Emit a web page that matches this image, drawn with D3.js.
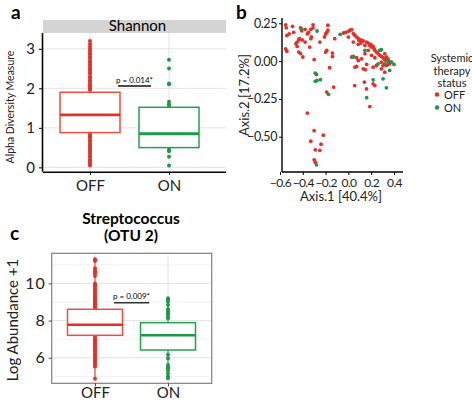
<!DOCTYPE html>
<html><head><meta charset="utf-8">
<script src="https://cdn.jsdelivr.net/npm/d3@7/dist/d3.min.js"></script>
<style>body{margin:0;background:#fff}svg{display:block}text{font-family:Lato,"Open Sans",sans-serif}</style>
</head><body><svg id="c" width="472" height="401"></svg>
<script>
// ---------- DATA ----------
const groups = ["OFF","ON"];
// Panel a: Shannon box stats [q1, median, q3]
const shannonBox = {OFF:[0.88,1.33,1.90], ON:[0.50,0.85,1.52]};
const shannonOFF = [3.2,3.12,3.05,3.0,2.96,2.9,2.86,2.8,2.76,2.7,2.66,2.6,2.55,2.5,2.46,2.4,2.37,2.3,2.26,2.2,2.16,2.1,2.05,2.0,1.96,
                    0.85,0.8,0.76,0.7,0.66,0.6,0.55,0.5,0.46,0.4,0.36,0.3,0.26,0.2,0.16,0.12,0.08,0.05];
const shannonON = [2.72,2.5,2.12,2.1,1.66,1.6,1.55,0.45,0.41,0.27,0.05];
const shannonTicks = [0,1,2,3];
// Panel c: Streptococcus box stats
const streptoBox = {OFF:[7.21,7.78,8.61], ON:[6.42,7.21,7.89]};
const streptoOFF = [11.3,11.2,10.82,10.7,10.63,10.55,10.4,10.0,9.9,9.83,9.72,9.65,9.55,9.45,9.38,9.29,9.2,9.1,9.02,8.93,8.88,8.8,8.74,8.67,
                    7.12,7.0,6.92,6.85,6.76,6.7,6.6,6.5,6.42,6.35,6.25,6.16,6.06,6.0,5.9,5.8,5.7,5.62,5.53,4.87];
const streptoON = [9.2,9.12,9.02,8.84,8.61,8.55,8.48,8.4,8.31,8.2,8.13,6.16,5.98,5.62,5.5,5.44,5.35,5.17,4.99,4.9];
const streptoTicks = [6,8,10];
const streptoMinor = [5,7,9,11];
// Panel b: ordination (Axis.1, Axis.2)
const pcoaOFF = [[-0.55,0.24],[-0.545,0.22],[-0.49,0.23],[-0.52,0.18],[-0.54,0.17],[-0.48,0.19],[-0.55,0.08],[-0.54,0.065],
 [-0.42,0.22],[-0.41,0.20],[-0.46,0.115],[-0.45,0.126],[-0.435,0.14],[-0.43,0.148],[-0.405,0.14],[-0.45,0.097],[-0.435,0.06],[-0.42,0.05],[-0.40,0.027],
 [-0.38,0.21],[-0.36,0.18],[-0.35,0.19],[-0.34,0.093],[-0.38,0.126],[-0.33,0.21],[-0.31,0.24],[-0.31,0.22],[-0.33,0.148],[-0.325,0.16],[-0.30,0.01],
 [-0.25,0.126],[-0.21,0.16],[-0.20,0.18],[-0.19,0.19],[-0.18,0.237],[-0.19,0.07],[-0.20,0.06],[-0.18,0.204],[-0.14,0.053],[-0.14,0.03],[-0.12,0.148],
 [-0.36,-0.344],[-0.30,-0.46],[-0.33,-0.53],[-0.22,-0.49],[-0.24,-0.55],[-0.29,-0.587],[-0.25,-0.59],[-0.30,-0.653],[-0.29,-0.669],
 [-0.28,-0.088],[-0.19,-0.205],[-0.13,-0.172],[-0.165,-0.044],
 [-0.043,0.186],[-0.023,0.19],[0,0.197],[0.014,0.204],[0.029,0.208],[0.043,0.181],[0.058,0.17],[0.072,0.159],[0.087,0.148],[0.093,0.137],[0.101,0.142],
 [0.116,0.137],[0.13,0.133],[0.145,0.104],[0.159,0.126],[0.174,0.119],[0.188,0.104],[0.197,0.111],[0.203,0.093],[0.217,0.097],[0.226,0.082],[0.232,0.071],
 [0.246,0.06],[0.261,0.049],[0.275,0.038],[0.29,0.031],[0.304,0.022],[0.319,0.009],[0.333,0.004],[0.348,0],[0.362,-0.007],[0.319,0.049],[0.333,0.027],
 [0.348,0.015],[0.377,-0.007],[0.29,-0.007],[0.304,-0.029],[0.333,-0.029],[0.348,-0.022],[0.362,-0.018],[0,0.159],[0.043,0.126],[0.087,0.111],[0.11,0.119],
 [0.029,0.027],[0.043,0.031],[0.072,0.022],[0.087,0.004],[0.116,0.015],[0.145,0.049],[0.174,0.071],[0.203,0.038],[0.232,0.022],[0.058,-0.04],[0.072,-0.035],
 [0.13,-0.051],[0.217,-0.04],[0.246,-0.029],[0.29,-0.051],[0.319,-0.073],[0.055,-0.162],[0.159,-0.184],[0.217,-0.15],[0.232,-0.162],[0.188,-0.301],
 [0.14,-0.139],[0.148,-0.057],[0.16,-0.022]];
const pcoaON = [[-0.414,0.215],[-0.275,0.199],[-0.29,-0.08],[-0.29,-0.134],[-0.275,-0.128],[-0.245,-0.123],[-0.175,-0.22],[-0.28,-0.686],
 [-0.072,0.177],[0.145,0.071],[0.275,0.071],[0.29,0.075],[0.261,-0.018],[0.319,-0.018],[0.348,0.004],[0.40,-0.022],[0.377,-0.007],
 [0.362,-0.062],[0.304,-0.117],[0.333,-0.177],[0.217,-0.124],[0.16,-0.242],[0.043,0.027]];
const pcoaXTicks = [-0.6,-0.4,-0.2,0.0,0.2,0.4];
const pcoaYTicks = [-0.5,-0.25,0,0.25];

const colors = {OFF:"#e5302a", ON:"#1c9a48"};
const boxStroke = {OFF:"#ee4d3f", ON:"#23a04e"};

const svg = d3.select("#c");

// ---------- Panel a ----------
(function(){
  const L=43,R=226,T=33,B=171.7;
  const x = d3.scalePoint().domain(groups).range([90,169]);
  const y = d3.scaleLinear().domain([-0.11,3.4]).range([B,T]);
  const g = svg.append("g");
  g.append("rect").attr("x",L).attr("y",20).attr("width",R-L).attr("height",13).attr("fill","#d4d4d4");
  g.append("text").attr("x",(L+R)/2+3).attr("y",31).attr("text-anchor","middle").attr("font-size",15).text("Shannon");
  g.selectAll(".gy").data(shannonTicks).join("line").attr("x1",L).attr("x2",R).attr("y1",d=>y(d)).attr("y2",d=>y(d)).attr("stroke","#e3e3e3").attr("stroke-width",1);
  g.selectAll(".gx").data(groups).join("line").attr("x1",d=>x(d)).attr("x2",d=>x(d)).attr("y1",T).attr("y2",B).attr("stroke","#e3e3e3");
  const pts = [...shannonOFF.map(v=>({g:"OFF",v})),...shannonON.map(v=>({g:"ON",v}))];
  g.selectAll(".p").data(pts).join("circle").attr("cx",d=>x(d.g)).attr("cy",d=>y(d.v)).attr("r",2).attr("fill",d=>colors[d.g]);
  const bw=60;
  groups.forEach(k=>{
    const [q1,md,q3]=shannonBox[k], c=boxStroke[k];
    g.append("rect").attr("x",x(k)-bw/2).attr("y",y(q3)).attr("width",bw).attr("height",y(q1)-y(q3)).attr("fill","#fff").attr("stroke",c).attr("stroke-width",1.5);
    g.append("line").attr("x1",x(k)-bw/2).attr("x2",x(k)+bw/2).attr("y1",y(md)).attr("y2",y(md)).attr("stroke",colors[k]).attr("stroke-width",2.8);
  });
  const ya = d3.axisLeft(y).tickValues(shannonTicks).tickSize(4).tickFormat(d3.format("d"));
  const ay = g.append("g").attr("transform",`translate(${L},0)`).call(ya);
  ay.select(".domain").attr("d",`M-0.5,${T}V${B}`).attr("stroke","#000").attr("stroke-width",1.6);
  ay.selectAll("text").attr("font-size",15).attr("fill","#222").attr("dx",-1);
  const xa = d3.axisBottom(x).tickSize(3).tickSizeOuter(0);
  const ax = g.append("g").attr("transform",`translate(0,${B})`).call(xa);
  ax.select(".domain").attr("d",`M${L},0.5H${R}`).attr("stroke","#000").attr("stroke-width",1.6);
  ax.selectAll("text").attr("font-size",15).attr("fill","#222").attr("dy","0.9em");
  g.append("text").attr("transform","translate(14,107) rotate(-90)").attr("text-anchor","middle").attr("font-size",10.5).attr("fill","#222").text("Alpha Diversity Measure");
  g.append("line").attr("x1",118).attr("x2",151).attr("y1",86).attr("y2",86).attr("stroke","#111").attr("stroke-width",1.3);
  g.append("text").attr("x",134.5).attr("y",82.5).attr("text-anchor","middle").attr("font-size",8).text("p = 0.014*");
  g.append("text").attr("x",11).attr("y",19).attr("font-size",19).attr("font-weight","bold").attr("font-family","Liberation Sans, Arial").text("a");
})();

// ---------- Panel b ----------
(function(){
  const L=282,R=403,T=18,B=172;
  const x = d3.scaleLinear().domain([-0.6,0.4]).range([280,394]);
  const y = d3.scaleLinear().domain([-0.5,0.25]).range([136.7,23.3]);
  const g = svg.append("g");
  const pts=[...pcoaOFF.map(p=>({g:"OFF",p})),...pcoaON.map(p=>({g:"ON",p}))];
  g.selectAll(".p").data(pts).join("circle").attr("cx",d=>x(d.p[0])).attr("cy",d=>y(d.p[1])).attr("r",1.9).attr("fill",d=>colors[d.g]);
  const ay = g.append("g").attr("transform",`translate(${L},0)`).call(d3.axisLeft(y).tickValues(pcoaYTicks).tickSize(3).tickPadding(2).tickFormat(d3.format(".2f")));
  ay.select(".domain").attr("d",`M0,${T}V${B}`).attr("stroke","#000").attr("stroke-width",1.4);
  ay.selectAll("text").attr("font-size",12.5).attr("letter-spacing","-0.4px").attr("fill","#222").text(d=>d3.format(".2f")(d).replace("-","\u2212"));
  const ax = g.append("g").attr("transform",`translate(0,${B})`).call(d3.axisBottom(x).tickValues(pcoaXTicks).tickSize(3).tickFormat(d3.format(".1f")));
  ax.select(".domain").attr("d",`M${L},0H${R}`).attr("stroke","#000").attr("stroke-width",1.4);
  ax.selectAll("text").attr("font-size",12).attr("letter-spacing","-0.6px").attr("fill","#222").text(d=>d3.format(".1f")(d).replace("-","\u2212"));
  g.append("text").attr("x",341).attr("y",201).attr("text-anchor","middle").attr("font-size",13).attr("fill","#222").text("Axis.1 [40.4%]");
  g.append("text").attr("transform","translate(249,95) rotate(-90)").attr("text-anchor","middle").attr("font-size",13).attr("fill","#222").text("Axis.2 [17.2%]");
  const lg = g.append("g");
  ["Systemic","therapy","status"].forEach((t,i)=>lg.append("text").attr("x",452).attr("y",62+i*12.5).attr("text-anchor","middle").attr("font-size",11).attr("fill","#222").text(t));
  groups.forEach((k,i)=>{
    lg.append("circle").attr("cx",437).attr("cy",94.5+i*13).attr("r",2.2).attr("fill",colors[k]);
    lg.append("text").attr("x",444).attr("y",98.5+i*13).attr("font-size",11).attr("fill","#222").text(k);
  });
  g.append("text").attr("x",236).attr("y",19).attr("font-size",19).attr("font-weight","bold").attr("font-family","Liberation Sans, Arial").text("b");
})();

// ---------- Panel c ----------
(function(){
  const L=51.7,R=211.7,T=253.3,B=383.3;
  const x = d3.scalePoint().domain(groups).range([95,168]);
  const y = d3.scaleLinear().domain([4.63,11.62]).range([B,T]);
  const g = svg.append("g");
  g.selectAll(".gm").data(streptoMinor).join("line").attr("x1",L).attr("x2",R).attr("y1",d=>y(d)).attr("y2",d=>y(d)).attr("stroke","#f2f2f2");
  g.selectAll(".gy").data(streptoTicks).join("line").attr("x1",L).attr("x2",R).attr("y1",d=>y(d)).attr("y2",d=>y(d)).attr("stroke","#e2e2e2");
  g.selectAll(".gx").data(groups).join("line").attr("x1",d=>x(d)).attr("x2",d=>x(d)).attr("y1",T).attr("y2",B).attr("stroke","#e2e2e2");
  const pts=[...streptoOFF.map(v=>({g:"OFF",v})),...streptoON.map(v=>({g:"ON",v}))];
  const bw=55;
  groups.forEach(k=>{
    const arr = k==="OFF"?streptoOFF:streptoON;
    g.append("line").attr("x1",x(k)).attr("x2",x(k)).attr("y1",y(d3.max(arr))).attr("y2",y(d3.min(arr))).attr("stroke",boxStroke[k]).attr("stroke-width",1.2);
  });
  g.selectAll(".p").data(pts).join("circle").attr("cx",d=>x(d.g)).attr("cy",d=>y(d.v)).attr("r",2).attr("fill",d=>colors[d.g]);
  groups.forEach(k=>{
    const [q1,md,q3]=streptoBox[k];
    g.append("rect").attr("x",x(k)-bw/2).attr("y",y(q3)).attr("width",bw).attr("height",y(q1)-y(q3)).attr("fill","#fff").attr("stroke",boxStroke[k]).attr("stroke-width",1.5);
    g.append("line").attr("x1",x(k)-bw/2).attr("x2",x(k)+bw/2).attr("y1",y(md)).attr("y2",y(md)).attr("stroke",colors[k]).attr("stroke-width",2.6);
  });
  g.append("rect").attr("x",L).attr("y",T).attr("width",R-L).attr("height",B-T).attr("fill","none").attr("stroke","#808080").attr("stroke-width",1.2);
  const ay = g.append("g").attr("transform",`translate(${L},0)`).call(d3.axisLeft(y).tickValues(streptoTicks).tickSize(3).tickFormat(d3.format("d")));
  ay.select(".domain").remove();
  ay.selectAll("line").attr("stroke","#444");
  ay.selectAll("text").attr("font-size",16).attr("fill","#222").attr("font-family","DejaVu Sans").attr("letter-spacing","1px");
  const ax = g.append("g").attr("transform",`translate(0,${B})`).call(d3.axisBottom(x).tickSize(3).tickPadding(2));
  ax.select(".domain").remove();
  ax.selectAll("line").attr("stroke","#444");
  ax.selectAll("text").attr("font-size",15).attr("fill","#222").attr("dy","0.68em");
  g.append("text").attr("transform","translate(18,320) rotate(-90)").attr("text-anchor","middle").attr("font-size",15).attr("fill","#222").text("Log Abundance +1");
  g.append("text").attr("x",131).attr("y",224).attr("text-anchor","middle").attr("font-size",15.5).attr("font-weight","bold").text("Streptococcus");
  g.append("text").attr("x",131).attr("y",241).attr("text-anchor","middle").attr("font-size",15.5).attr("font-weight","bold").text("(OTU 2)");
  g.append("line").attr("x1",114).attr("x2",149.3).attr("y1",302.7).attr("y2",302.7).attr("stroke","#333").attr("stroke-width",1.4);
  g.append("text").attr("x",131.5).attr("y",299).attr("text-anchor","middle").attr("font-size",8).text("p = 0.009*");
  g.append("text").attr("x",10).attr("y",240).attr("font-size",19).attr("font-weight","bold").attr("font-family","Liberation Sans, Arial").text("c");
})();
</script></body></html>
